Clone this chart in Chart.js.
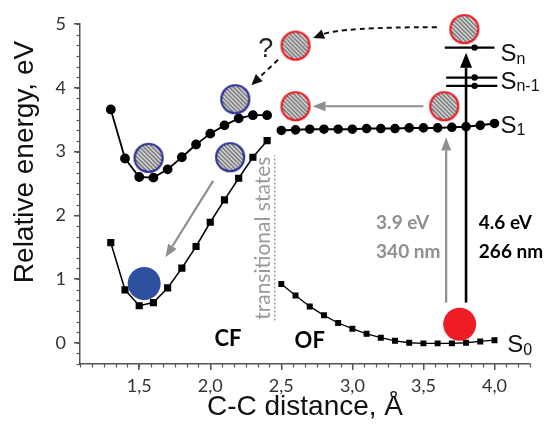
<!DOCTYPE html>
<html>
<head>
<meta charset="utf-8">
<script src="https://cdn.jsdelivr.net/npm/chart.js@4"></script>
<style>
  html, body { margin: 0; padding: 0; background: #fff; }
  canvas { display: block; }
</style>
</head>
<body>
<canvas id="chart" width="547" height="433"></canvas>
<script>
// axis ticks
const xTicks = [1.5, 2.0, 2.5, 3.0, 3.5, 4.0];
const xTickLabels = ["1,5", "2,0", "2,5", "3,0", "3,5", "4,0"];
const yTicks = [0, 1, 2, 3, 4, 5];
const yTickLabels = ["0", "1", "2", "3", "4", "5"];

// closed form (CF) branch
const cfX  = [1.3, 1.4, 1.5, 1.6, 1.7, 1.8, 1.9, 2.0, 2.1, 2.2, 2.3, 2.4];
const cfS1 = [3.66, 2.89, 2.60, 2.59, 2.72, 2.91, 3.11, 3.28, 3.41, 3.52, 3.57, 3.57];
const cfS0 = [1.57, 0.83, 0.58, 0.63, 0.86, 1.17, 1.51, 1.89, 2.24, 2.58, 2.91, 3.17];

// open form (OF) branch
const ofX  = [2.5, 2.6, 2.7, 2.8, 2.9, 3.0, 3.1, 3.2, 3.3, 3.4, 3.5, 3.6, 3.7, 3.8, 3.9, 4.0];
const ofS1 = [3.33, 3.34, 3.35, 3.35, 3.35, 3.35, 3.36, 3.36, 3.36, 3.37, 3.37, 3.37, 3.38, 3.39, 3.41, 3.44];
const ofS0 = [0.92, 0.74, 0.57, 0.43, 0.31, 0.22, 0.14, 0.08, 0.03, 0.00, -0.01, -0.01, -0.01, 0.00, 0.02, 0.04];

// higher excited levels Sn, Sn-1
const levelY    = [4.63, 4.16, 4.03];
const levelFrom = [3.65, 3.66, 3.66];
const levelTo   = [4.00, 4.02, 4.02];
const levelDotX = 3.86;

// molecules drawn as circles
const blueHatched = [{x: 1.566, y: 2.90}, {x: 2.176, y: 3.82}, {x: 2.14, y: 2.91}];
const redHatched  = [{x: 2.60, y: 4.66}, {x: 2.60, y: 3.71}, {x: 3.647, y: 3.71}, {x: 3.788, y: 4.92}];
const blueFilled  = [{x: 1.535, y: 0.93}];
const redFilled   = [{x: 3.755, y: 0.29}];

// arrows [x1, y1, x2, y2]
const grayArrows = [[2.02, 2.54, 1.685, 1.34], [3.50, 3.71, 2.72, 3.71], [3.66, 0.63, 3.66, 3.22]];
const blackArrow = [3.80, 0.63, 3.80, 4.55];
const dashedCurve = [3.595, 4.95, 2.92, 4.95, 2.724, 4.78];
const dashedArrow = [2.477, 4.44, 2.289, 4.04];
const transLine = [2.453, 0.35, 2.94];

function hatchCircle(edge) {
  const c = document.createElement("canvas");
  c.width = c.height = 34;
  const g = c.getContext("2d");
  g.save();
  g.beginPath();
  g.arc(17, 17, 14, 0, Math.PI * 2);
  g.fillStyle = "#e4e4e4";
  g.fill();
  g.clip();
  g.strokeStyle = "#5a5a5a";
  g.lineWidth = 1.3;
  for (let k = -36; k < 40; k += 4.2) {
    g.beginPath();
    g.moveTo(k, 0);
    g.lineTo(k + 34, 34);
    g.stroke();
  }
  g.restore();
  g.beginPath();
  g.arc(17, 17, 14, 0, Math.PI * 2);
  g.strokeStyle = edge;
  g.lineWidth = 2.2;
  g.stroke();
  return c;
}

const blueHatch = hatchCircle("#2e3192");
const redHatch = hatchCircle("#ee1c25");

function zip(xs, ys) { return xs.map((x, i) => ({x: x, y: ys[i]})); }

const datasets = [
  {data: redHatched, pointStyle: redHatch, pointRadius: 15, clip: false},
  {data: blueHatched, pointStyle: blueHatch, pointRadius: 15, clip: false},
  {data: blueFilled, pointRadius: 16.5, backgroundColor: "#2f4f9f", borderColor: "#2f4f9f", borderWidth: 0, clip: false},
  {data: redFilled, pointRadius: 16.5, backgroundColor: "#ee1c25", borderColor: "#ee1c25", borderWidth: 0, clip: false},
  {data: levelY.map(y => ({x: levelDotX, y: y})), pointRadius: 3.2, backgroundColor: "#000", borderWidth: 0}
];
levelY.forEach((y, i) => {
  datasets.push({data: [{x: levelFrom[i], y: y}, {x: levelTo[i], y: y}], showLine: true,
    borderColor: "#000", borderWidth: 2.2, pointRadius: 0});
});
datasets.push(
  {data: zip(cfX, cfS1), showLine: true, borderColor: "#000", borderWidth: 1.8,
   pointStyle: "circle", pointRadius: 4, backgroundColor: "#000"},
  {data: zip(cfX, cfS0), showLine: true, borderColor: "#000", borderWidth: 1.5,
   pointStyle: "rect", pointRadius: 4, backgroundColor: "#000"},
  {data: zip(ofX, ofS1), showLine: true, borderColor: "#000", borderWidth: 2,
   pointStyle: "circle", pointRadius: 3.8, backgroundColor: "#000"},
  {data: zip(ofX, ofS0), showLine: true, borderColor: "#000", borderWidth: 1.3,
   pointStyle: "rect", pointRadius: 3.3, backgroundColor: "#000"}
);

function drawHead(ctx, x, y, ang, len, w) {
  const bx = x - Math.cos(ang) * len, by = y - Math.sin(ang) * len;
  const nx = -Math.sin(ang) * w / 2, ny = Math.cos(ang) * w / 2;
  ctx.beginPath();
  ctx.moveTo(x, y);
  ctx.lineTo(bx + nx, by + ny);
  ctx.lineTo(bx - nx, by - ny);
  ctx.closePath();
  ctx.fill();
}

function drawArrow(ctx, x1, y1, x2, y2, color, width, headLen, headW, dash) {
  const ang = Math.atan2(y2 - y1, x2 - x1);
  const bx = x2 - Math.cos(ang) * headLen, by = y2 - Math.sin(ang) * headLen;
  ctx.save();
  ctx.strokeStyle = color;
  ctx.fillStyle = color;
  ctx.lineWidth = width;
  if (dash) ctx.setLineDash(dash);
  ctx.beginPath();
  ctx.moveTo(x1, y1);
  ctx.lineTo(bx, by);
  ctx.stroke();
  ctx.setLineDash([]);
  drawHead(ctx, x2, y2, ang, headLen, headW);
  ctx.restore();
}

function stateLabel(ctx, x, y, sub) {
  ctx.font = "24px 'Liberation Sans', Arial, sans-serif";
  ctx.textBaseline = "middle";
  ctx.textAlign = "left";
  ctx.fillStyle = "#111";
  ctx.fillText("S", x, y);
  const w = ctx.measureText("S").width;
  ctx.font = "16px 'Liberation Sans', Arial, sans-serif";
  ctx.fillText(sub, x + w, y + 5);
}

const extras = {
  id: "extras",
  afterDatasetsDraw(chart) {
    const ctx = chart.ctx;
    const sx = chart.scales.x, sy = chart.scales.y;
    const X = v => sx.getPixelForValue(v), Y = v => sy.getPixelForValue(v);
    const area = chart.chartArea;

    // minor ticks
    ctx.save();
    ctx.strokeStyle = "#555";
    ctx.lineWidth = 1.2;
    for (let v = 1.5 - 5 / 12; v < 4.26; v += 1 / 12) {
      const p = Math.round(X(v)) + 0.5;
      ctx.beginPath(); ctx.moveTo(p, area.bottom); ctx.lineTo(p, area.bottom + 3.5); ctx.stroke();
    }
    for (let v = -1 / 3; v < 5.01; v += 1 / 6) {
      const p = Math.round(Y(v)) + 0.5;
      ctx.beginPath(); ctx.moveTo(area.left, p); ctx.lineTo(area.left - 3.5, p); ctx.stroke();
    }
    ctx.restore();

    // transitional states
    ctx.save();
    ctx.strokeStyle = "#9a9a9a";
    ctx.lineWidth = 1.5;
    ctx.setLineDash([2, 2]);
    ctx.beginPath();
    ctx.moveTo(X(transLine[0]), Y(transLine[1]));
    ctx.lineTo(X(transLine[0]), Y(transLine[2]));
    ctx.stroke();
    ctx.restore();
    ctx.save();
    ctx.translate(X(2.37), Y(1.64));
    ctx.rotate(-Math.PI / 2);
    ctx.font = "21px Lato, 'Open Sans', sans-serif";
    ctx.fillStyle = "#999";
    ctx.textAlign = "center";
    ctx.textBaseline = "middle";
    ctx.fillText("transitional states", 0, 0);
    ctx.restore();

    // arrows
    grayArrows.forEach(a => drawArrow(ctx, X(a[0]), Y(a[1]), X(a[2]), Y(a[3]), "#8e8e8e", 2.2, 13, 10));
    drawArrow(ctx, X(blackArrow[0]), Y(blackArrow[1]), X(blackArrow[2]), Y(blackArrow[3]), "#000", 2.6, 15, 12);
    drawArrow(ctx, X(dashedArrow[0]), Y(dashedArrow[1]), X(dashedArrow[2]), Y(dashedArrow[3]), "#111", 2, 11, 10, [5, 4]);

    const c = dashedCurve;
    const p0x = X(c[0]), p0y = Y(c[1]), cx = X(c[2]), cy = Y(c[3]), ex = X(c[4]), ey = Y(c[5]);
    const ang = Math.atan2(ey - cy, ex - cx);
    ctx.save();
    ctx.strokeStyle = "#111";
    ctx.fillStyle = "#111";
    ctx.lineWidth = 2;
    ctx.setLineDash([5, 4]);
    ctx.beginPath();
    ctx.moveTo(p0x, p0y);
    ctx.quadraticCurveTo(cx, cy, ex - Math.cos(ang) * 10, ey - Math.sin(ang) * 10);
    ctx.stroke();
    ctx.setLineDash([]);
    drawHead(ctx, ex, ey, ang, 11, 10);
    ctx.restore();

    // texts
    ctx.save();
    ctx.textBaseline = "middle";
    ctx.fillStyle = "#222";
    ctx.font = "27px 'Liberation Sans', Arial, sans-serif";
    ctx.textAlign = "center";
    ctx.fillText("?", X(2.39), Y(4.6));
    ctx.font = "bold 22px Lato, 'Open Sans', sans-serif";
    ctx.fillStyle = "#000";
    ctx.fillText("CF", X(2.124), Y(0.054));
    ctx.fillText("OF", X(2.70), Y(0.027));
    ctx.textAlign = "left";
    ctx.font = "bold 19px Lato, 'Open Sans', sans-serif";
    ctx.fillStyle = "#8e8e8e";
    ctx.fillText("3.9 eV", X(3.167), Y(1.88));
    ctx.fillText("340 nm", X(3.167), Y(1.433));
    ctx.fillStyle = "#000";
    ctx.fillText("4.6 eV", X(3.89), Y(1.88));
    ctx.fillText("266 nm", X(3.89), Y(1.433));
    ctx.restore();

    ctx.save();
    stateLabel(ctx, X(4.09), Y(-0.04), "0");
    stateLabel(ctx, X(4.042), Y(3.40), "1");
    stateLabel(ctx, X(4.042), Y(4.09), "n-1");
    stateLabel(ctx, X(4.042), Y(4.52), "n");
    ctx.restore();

    // axis titles
    ctx.save();
    ctx.fillStyle = "#111";
    ctx.font = "28px 'Liberation Sans', Arial, sans-serif";
    ctx.textAlign = "center";
    ctx.textBaseline = "middle";
    ctx.fillText("C-C distance, \u00C5", (area.left + area.right) / 2, 407);
    ctx.translate(25, 162);
    ctx.rotate(-Math.PI / 2);
    ctx.fillText("Relative energy, eV", 0, 0);
    ctx.restore();
  }
};

new Chart(document.getElementById("chart"), {
  type: "scatter",
  data: {datasets: datasets},
  options: {
    responsive: false,
    animation: false,
    layout: {padding: {left: 0, right: 17, top: 24, bottom: 0}},
    plugins: {legend: {display: false}, tooltip: {enabled: false}},
    scales: {
      x: {
        type: "linear",
        min: 1.5 - 5 / 12,
        max: 4.25,
        afterBuildTicks: s => { s.ticks = xTicks.map(v => ({value: v})); },
        afterFit: s => { s.height = 69; },
        border: {color: "#555", width: 1.5},
        grid: {drawOnChartArea: false, drawTicks: true, tickLength: 6, color: "#555", lineWidth: 1.5},
        ticks: {
          padding: 5,
          color: "#333",
          font: {family: "Lato", size: 18},
          maxRotation: 0,
          callback: v => xTickLabels[xTicks.indexOf(v)]
        }
      },
      y: {
        type: "linear",
        min: -1 / 3,
        max: 5,
        afterBuildTicks: s => { s.ticks = yTicks.map(v => ({value: v})); },
        afterFit: s => { s.width = 80; },
        border: {color: "#555", width: 1.5},
        grid: {drawOnChartArea: false, drawTicks: true, tickLength: 6, color: "#555", lineWidth: 1.5},
        ticks: {
          padding: 8,
          color: "#333",
          font: {family: "Lato", size: 18},
          callback: v => yTickLabels[yTicks.indexOf(v)]
        }
      }
    }
  },
  plugins: [extras]
});
</script>
</body>
</html>
